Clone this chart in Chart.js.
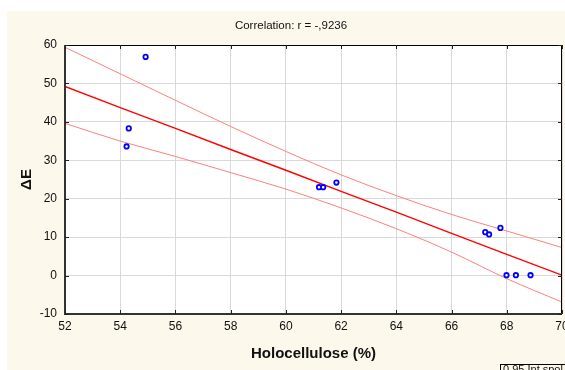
<!DOCTYPE html>
<html>
<head>
<meta charset="utf-8">
<script src="https://cdn.jsdelivr.net/npm/chart.js@4.4.1/dist/chart.umd.min.js"></script>
<style>
  html, body { margin: 0; padding: 0; background: #fff; }
  #wrap { width: 565px; height: 370px; position: relative; }
</style>
</head>
<body>
<div id="wrap"><canvas id="c" width="565" height="370"></canvas></div>
<script>
// measured samples
const holocellulose = [54.92, 54.31, 54.23, 61.20, 61.35, 61.83, 67.22, 67.36, 67.77, 67.99, 68.33, 68.86];
const deltaE        = [56.9, 38.3, 33.6, 23.0, 23.0, 24.2, 11.3, 10.7, 12.4, 0.1, 0.1, 0.1];

// fitted line and 0.95 confidence band, read at these x positions
const fitX    = [52, 54, 56, 58, 60, 62, 64, 66, 68, 70];
const fitY    = [49.2, 43.7, 38.3, 32.8, 27.4, 21.9, 16.5, 11.0, 5.5, 0.1];
const upperY  = [59.4, 52.5, 45.6, 38.8, 32.3, 26.2, 20.8, 15.9, 11.6, 7.3];
const lowerY  = [39.6, 35.0, 31.0, 26.8, 22.5, 17.6, 12.2, 6.1, -0.8, -6.9];

const xTicks = [52, 54, 56, 58, 60, 62, 64, 66, 68, 70];
const yTicks = [-10, 0, 10, 20, 30, 40, 50, 60];

const titleText  = 'Correlation: r = -,9236';
const legendText = '0.95 Int.spol';

const FONT = '"Liberation Sans Narrow", "Liberation Sans", Arial, sans-serif';
const pts = (xs, ys) => xs.map((x, i) => ({ x, y: ys[i] }));

// cream panel, white plot area, frame with inward ticks, title and legend box
const frame = {
  id: 'frame',
  beforeDraw(chart) {
    const { ctx, chartArea: a } = chart;
    ctx.save();
    ctx.fillStyle = '#fff';
    ctx.fillRect(0, 0, chart.width, chart.height);
    ctx.fillStyle = '#fdf8ec';
    ctx.fillRect(7, 11, chart.width - 7, chart.height - 11);
    ctx.fillStyle = '#fff';
    ctx.fillRect(a.left, a.top, a.right - a.left, a.bottom - a.top);
    ctx.restore();
  },
  afterDraw(chart) {
    const { ctx, chartArea: a, scales } = chart;
    ctx.save();
    ctx.strokeStyle = '#000';
    ctx.lineWidth = 1;
    ctx.beginPath();
    ctx.moveTo(a.left, a.top + 0.5); ctx.lineTo(a.right, a.top + 0.5);
    ctx.moveTo(a.right - 0.5, a.top); ctx.lineTo(a.right - 0.5, a.bottom);
    ctx.stroke();
    ctx.strokeStyle = '#333';
    ctx.lineWidth = 2;
    ctx.beginPath();
    ctx.moveTo(a.left, a.top); ctx.lineTo(a.left, a.bottom);
    ctx.lineTo(a.right, a.bottom);
    ctx.stroke();

    ctx.lineWidth = 1;
    ctx.strokeStyle = '#222';
    ctx.beginPath();
    xTicks.forEach(v => {
      const px = Math.round(scales.x.getPixelForValue(v)) + 0.5;
      ctx.moveTo(px, a.bottom); ctx.lineTo(px, a.bottom - 4);
      ctx.moveTo(px, a.top);    ctx.lineTo(px, a.top + 4);
    });
    yTicks.forEach(v => {
      const py = Math.round(scales.y.getPixelForValue(v)) + 0.5;
      ctx.moveTo(a.left, py);  ctx.lineTo(a.left + 4, py);
      ctx.moveTo(a.right, py); ctx.lineTo(a.right - 4, py);
    });
    ctx.stroke();

    ctx.fillStyle = '#111';
    ctx.font = '11.5px ' + FONT;
    ctx.textAlign = 'center';
    ctx.textBaseline = 'middle';
    ctx.fillText(titleText, 291, 26);

    ctx.strokeStyle = '#000';
    ctx.strokeRect(500.5, 364.5, 80, 14);
    ctx.textAlign = 'left';
    ctx.textBaseline = 'top';
    ctx.font = '11px ' + FONT;
    ctx.fillText(legendText, 503, 364.5);
    ctx.restore();
  }
};

new Chart(document.getElementById('c'), {
  type: 'scatter',
  data: {
    datasets: [
      {
        data: pts(holocellulose, deltaE),
        pointRadius: 2.2,
        pointBorderWidth: 1.8,
        borderColor: '#0000ff',
        backgroundColor: '#ffffff',
      },
      {
        type: 'line',
        data: pts(fitX, fitY),
        borderColor: '#ff0000',
        borderWidth: 1.4,
        pointRadius: 0,
      },
      {
        type: 'line',
        data: pts(fitX, upperY),
        borderColor: '#ff8080',
        borderWidth: 1,
        pointRadius: 0,
        cubicInterpolationMode: 'monotone',
      },
      {
        type: 'line',
        data: pts(fitX, lowerY),
        borderColor: '#ff8080',
        borderWidth: 1,
        pointRadius: 0,
        cubicInterpolationMode: 'monotone',
      },
    ],
  },
  options: {
    responsive: false,
    animation: false,
    devicePixelRatio: 1,
    layout: { autoPadding: false, padding: { top: 45, right: 3, left: 0, bottom: 0 } },
    plugins: { legend: { display: false }, tooltip: { enabled: false } },
    scales: {
      x: {
        type: 'linear', min: 52, max: 70,
        afterFit: s => { s.height = 56; s.paddingLeft = 0; s.paddingRight = 0; },
        afterBuildTicks: s => { s.ticks = xTicks.map(v => ({ value: v })); },
        ticks: { color: '#111', padding: 5, font: { family: FONT, size: 12 } },
        grid: { color: '#d9d9d9', drawTicks: false },
        border: { display: false },
        title: {
          display: true, text: 'Holocellulose (%)', color: '#111',
          font: { family: FONT, size: 15, weight: 'bold' },
          padding: { top: 0, bottom: 7 },
        },
      },
      y: {
        type: 'linear', min: -10, max: 60,
        afterFit: s => { s.width = 65; s.paddingTop = 0; s.paddingBottom = 0; },
        afterBuildTicks: s => { s.ticks = yTicks.map(v => ({ value: v })); },
        ticks: { color: '#111', padding: 8, font: { family: FONT, size: 12 } },
        grid: { color: '#d9d9d9', drawTicks: false },
        border: { display: false },
        title: {
          display: true, text: 'ΔE', color: '#111',
          font: { family: FONT, size: 15, weight: 'bold' },
          padding: { top: 18, bottom: 0 },
        },
      },
    },
  },
  plugins: [frame],
});
</script>
</body>
</html>
